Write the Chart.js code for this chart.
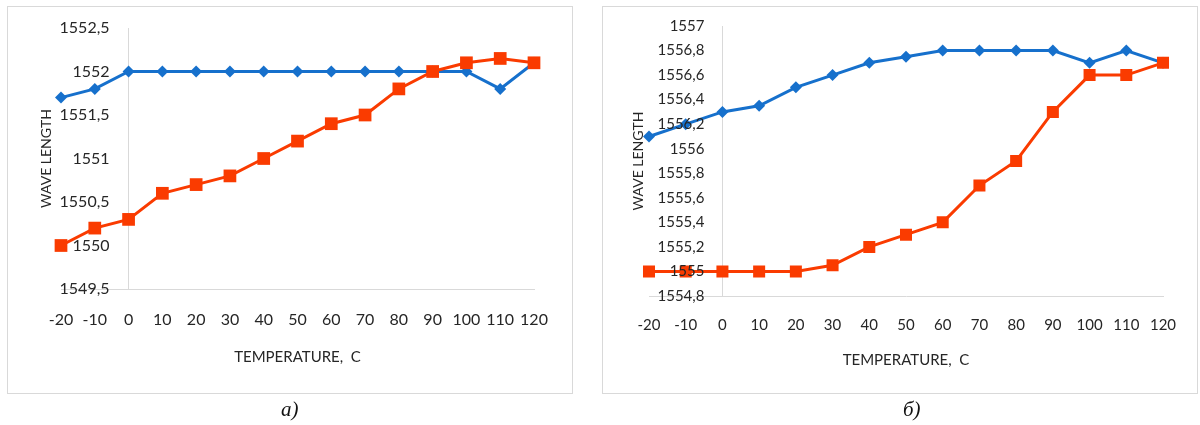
<!DOCTYPE html>
<html>
<head>
<meta charset="utf-8">
<script src="https://cdn.jsdelivr.net/npm/chart.js@4/dist/chart.umd.min.js"></script>
<style>
  html, body { margin: 0; padding: 0; background: #fff; }
  body { width: 1200px; height: 425px; position: relative; overflow: hidden; }
  .frame { position: absolute; border: 1px solid #d9d9d9; box-sizing: border-box; }
  #frameA { left: 7px; top: 6px; width: 566px; height: 388px; }
  #frameB { left: 602px; top: 6px; width: 596px; height: 388px; }
  canvas { position: absolute; }
  #chartA { left: 0; top: 0; }
  #chartB { left: 600px; top: 0; }
  .caption { position: absolute; top: 397px; font-family: "Liberation Serif", "DejaVu Serif", serif;
             font-style: italic; font-size: 21px; color: #111; }
  #capA { left: 281px; }
  #capB { left: 903px; }
</style>
</head>
<body>
<div class="frame" id="frameA"></div>
<div class="frame" id="frameB"></div>
<canvas id="chartA" width="580" height="400"></canvas>
<canvas id="chartB" width="600" height="400"></canvas>
<div class="caption" id="capA">a)</div>
<div class="caption" id="capB">б)</div>
<script>
// Temperature categories shared by both panels
const temperatures = [-20, -10, 0, 10, 20, 30, 40, 50, 60, 70, 80, 90, 100, 110, 120];
const tickLabels = temperatures.map(String);

// Panel a) wavelengths
const blueA   = [1551.7, 1551.8, 1552, 1552, 1552, 1552, 1552, 1552, 1552, 1552, 1552, 1552, 1552, 1551.8, 1552.1];
const orangeA = [1550, 1550.2, 1550.3, 1550.6, 1550.7, 1550.8, 1551, 1551.2, 1551.4, 1551.5, 1551.8, 1552, 1552.1, 1552.15, 1552.1];
const yRangeA = [1549.5, 1552.5, 0.5];

// Panel б) wavelengths
const blueB   = [1556.1, 1556.2, 1556.3, 1556.35, 1556.5, 1556.6, 1556.7, 1556.75, 1556.8, 1556.8, 1556.8, 1556.8, 1556.7, 1556.8, 1556.7];
const orangeB = [1555, 1555, 1555, 1555, 1555, 1555.05, 1555.2, 1555.3, 1555.4, 1555.7, 1555.9, 1556.3, 1556.6, 1556.6, 1556.7];
const yRangeB = [1554.8, 1557, 0.2];

const xTitle = 'TEMPERATURE,  C';
const yTitle = 'WAVE LENGTH';

const BLUE = '#1670cc';
const ORANGE = '#fa3b00';
const TEXT = '#262626';
const AXIS = '#d9d9d9';
const FONT = 'Lato, "Open Sans", sans-serif';

const zeroIndex = temperatures.indexOf(0);

function fmt(v) {
  return String(Number(v.toFixed(2))).replace('.', ',');
}

// Value labels of the vertical axis, drawn beside the axis that crosses at 0 °C
const crossAxisLabels = {
  id: 'crossAxisLabels',
  afterDatasetsDraw(chart, args, opts) {
    const { ctx, scales: { x, y } } = chart;
    const px = x.getPixelForValue(zeroIndex) - opts.gap;
    ctx.save();
    ctx.font = opts.size + 'px ' + FONT;
    ctx.fillStyle = TEXT;
    ctx.textAlign = 'right';
    ctx.textBaseline = 'middle';
    y.ticks.forEach(t => ctx.fillText(fmt(t.value), px, y.getPixelForValue(t.value)));
    ctx.restore();
  }
};

function build(id, blue, orange, yRange, g) {
  const xTitleLine = g.xTitleSize * 1.2;
  const yTitleLine = g.yTitleSize * 1.2;
  const tickLine = g.tickSize * 1.2;
  const padLeft = g.yTitleX - yTitleLine / 2;
  const xBottom = g.xTitleY + xTitleLine / 2;
  return new Chart(document.getElementById(id), {
    type: 'line',
    data: {
      labels: tickLabels,
      datasets: [
        {
          data: blue, borderColor: BLUE, backgroundColor: BLUE, borderWidth: 3,
          pointStyle: 'rectRot', pointRadius: g.diamond, pointBorderWidth: 0,
          tension: 0, order: 2
        },
        {
          data: orange, borderColor: ORANGE, backgroundColor: ORANGE, borderWidth: 3,
          pointStyle: 'rect', pointRadius: g.square, pointBorderWidth: 0,
          tension: 0, order: 1
        }
      ]
    },
    options: {
      responsive: false,
      animation: false,
      events: [],
      layout: {
        padding: { left: padLeft, right: g.w - g.right, top: g.top, bottom: g.h - xBottom }
      },
      plugins: {
        legend: { display: false },
        tooltip: { enabled: false },
        crossAxisLabels: { gap: g.gap, size: g.tickSize }
      },
      scales: {
        x: {
          type: 'category',
          offset: false,
          grid: {
            drawTicks: false,
            lineWidth: 1,
            color: c => (c.index === zeroIndex ? AXIS : 'rgba(0,0,0,0)')
          },
          border: { display: true, color: AXIS, width: 1 },
          ticks: {
            autoSkip: false, maxRotation: 0, color: TEXT,
            padding: g.xTickY - g.bottom - tickLine / 2,
            font: { family: FONT, size: g.tickSize }
          },
          title: {
            display: true, text: xTitle, color: TEXT, padding: 0,
            font: { family: FONT, size: g.xTitleSize }
          },
          afterFit: s => { s.height = xBottom - g.bottom; }
        },
        y: {
          min: yRange[0], max: yRange[1],
          ticks: { display: false, stepSize: yRange[2] },
          grid: { display: false },
          border: { display: false },
          title: {
            display: true, text: yTitle, color: TEXT, padding: 0,
            font: { family: FONT, size: g.yTitleSize }
          },
          afterFit: s => { s.width = g.left - padLeft; }
        }
      }
    },
    plugins: [crossAxisLabels]
  });
}

build('chartA', blueA, orangeA, yRangeA, {
  w: 580, h: 400, left: 61, right: 534, top: 28, bottom: 289,
  yTitleX: 46, xTickY: 320, xTitleY: 357, gap: 19,
  tickSize: 16, xTitleSize: 15, yTitleSize: 14, diamond: 6, square: 9
});

build('chartB', blueB, orangeB, yRangeB, {
  w: 600, h: 400, left: 49, right: 563, top: 26, bottom: 296,
  yTitleX: 38, xTickY: 325, xTitleY: 360, gap: 18,
  tickSize: 15, xTitleSize: 15, yTitleSize: 14, diamond: 6, square: 8.5
});
</script>
</body>
</html>
